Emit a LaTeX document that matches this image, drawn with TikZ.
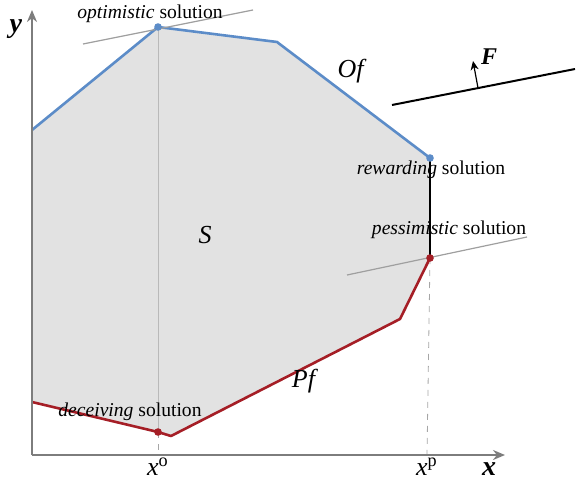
\documentclass[tikz,border=0pt]{standalone}
\usepackage{fontspec}
\setmainfont{Liberation Serif}
\usetikzlibrary{arrows.meta,positioning}
\definecolor{ofblue}{RGB}{92,140,200}
\definecolor{pfred}{RGB}{165,30,38}
\definecolor{regiongray}{RGB}{226,226,226}
\definecolor{axisgray}{RGB}{125,125,125}

\begin{document}
\begin{tikzpicture}[x=0.5pt,y=0.5pt,font=\fontsize{9.8}{12}\selectfont,>={Stealth[length=6pt,width=5pt]},
    sol/.style={circle,inner sep=0pt,minimum size=3.8pt},
    tangent/.style={gray!75,line width=0.6pt}]
    \useasboundingbox (-32,-28) rectangle (544,455);
    % corners of S
    \coordinate (a) at (0,325);
    \coordinate (opt) at (126,428);
    \coordinate (b) at (245,413);
    \coordinate (rew) at (398,297);
    \coordinate (pes) at (398,197);
    \coordinate (c) at (368,136);
    \coordinate (d) at (139,19);
    \coordinate (dec) at (126,23);
    \coordinate (e) at (0,53);
    \coordinate (o) at (0,0);
    \coordinate (xo) at (126,0);
    \coordinate (xp) at (395,0);
    \fill[regiongray] (a)--(opt)--(b)--(rew)--(pes)--(c)--(d)--(dec)--(e)--cycle;
    % projections
    \draw[gray!55,line width=0.4pt] (opt)--(dec);
    \draw[gray!70,dashed,line width=0.4pt] (dec)--(xo);
    \draw[gray!70,dashed,line width=0.4pt] (pes)--(xp);
    \draw[line width=0.6pt] (rew)--(pes);
    % boundaries
    \draw[ofblue,line width=1.3pt,line join=round] (a)--(opt)--(b)--(rew);
    \draw[pfred,line width=1.3pt,line join=round] (e)--(dec)--(d)--(c)--(pes);
    % tangents
    \coordinate (t1) at (51,411);
    \coordinate (t2) at (221,445);
    \coordinate (t3) at (315,180);
    \coordinate (t4) at (495,218);
    \draw[tangent] (t1)--(t2);
    \draw[tangent] (t3)--(t4);
    % direction F
    \coordinate (f1) at (360,350);
    \coordinate (f2) at (543,386);
    \coordinate (fa) at (446,367);
    \coordinate (fb) at (441,394);
    \draw[line width=1pt] (f1)--(f2);
    \draw[->,line width=0.6pt,>={Stealth[length=4.5pt,width=4pt]}] (fa)--(fb);
    % axes
    \coordinate (ytop) at (0,445);
    \coordinate (xend) at (473,0);
    \draw[->,axisgray,line width=1pt] (o)--(ytop);
    \draw[->,axisgray,line width=1pt] (o)--(xend);
    % solution points
    \node[sol,fill=ofblue] (optdot) at (opt) {};
    \node[sol,fill=ofblue] (rewdot) at (rew) {};
    \node[sol,fill=pfred] (pesdot) at (pes) {};
    \node[sol,fill=pfred] (decdot) at (dec) {};
    % labels
    \node (optlbl) at (118,441) {\textit{optimistic} solution};
    \node (rewlbl) at (399,285) {\textit{rewarding} solution};
    \node (peslbl) at (417,225) {\textit{pessimistic} solution};
    \node (declbl) at (98,43) {\textit{deceiving} solution};
    \node[font=\fontsize{13}{14}\selectfont] (ofl) at (320,384) {\textit{Of}};
    \node[font=\fontsize{13}{14}\selectfont] (pfl) at (273,74) {\textit{Pf}};
    \node[font=\fontsize{13}{14}\selectfont] (sl) at (173,220) {\textit{S}};
    \node[font=\fontsize{12}{14}\selectfont] (fl) at (457,398) {\textit{\textbf{F}}};
    \node[font=\fontsize{14}{14}\selectfont] (yl) at (-16,426) {\textit{\textbf{y}}};
    \node[font=\fontsize{14}{14}\selectfont] (xl) at (457,-14) {\textit{\textbf{x}}};
    \node[font=\fontsize{13}{14}\selectfont] (xol) at (126,-12) {\textit{x}\textsuperscript{o}};
    \node[font=\fontsize{13}{14}\selectfont] (xpl) at (395,-12) {\textit{x}\textsuperscript{p}};
\end{tikzpicture}
\end{document}
